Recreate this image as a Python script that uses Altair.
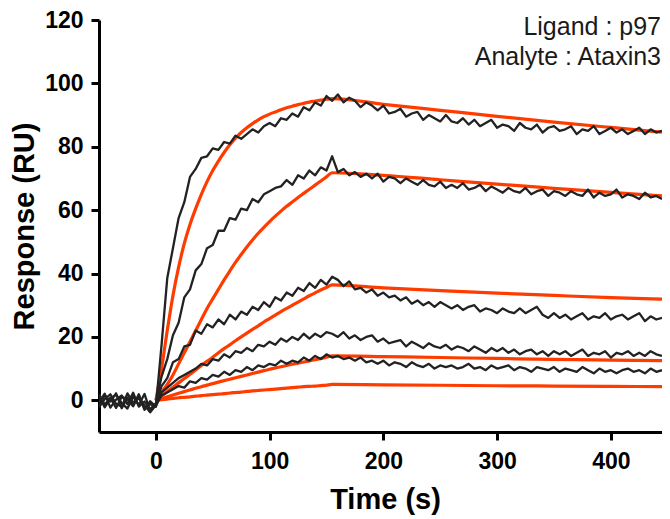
import altair as alt
import pandas as pd

# ---------------- data ----------------
# black measured traces: baseline (t=-50..-5, step 5), association (t=0..155), dissociation (t=160..445)
base_A = [-1.8, 1.6, -0.4, 2.2, -2.5, 0.9, -1.7, 1.9, -3.0, -0.3]
assoc_A = [-2.0, 17.5, 38.5, 48.0, 57.5, 62.5, 70.5, 73.0, 76.5, 77.0, 79.5, 79.0, 81.5, 81.0, 83.5, 82.5,
           84.0, 85.5, 84.5, 86.5, 87.5, 86.5, 89.0, 88.5, 90.5, 89.5, 92.5, 91.5, 94.0, 93.0, 96.0, 94.5]
diss_A = [96.5, 94.0, 95.5, 94.5, 92.5, 94.0, 93.0, 91.5, 93.0, 90.5,
          91.0, 92.0, 89.5, 90.5, 91.0, 88.5, 90.0, 89.0, 88.0, 90.0,
          88.0, 87.5, 89.0, 87.0, 88.5, 86.5, 87.5, 88.5, 86.0, 87.0,
          86.5, 85.0, 87.5, 86.0, 85.5, 87.0, 84.5, 86.0, 86.5, 85.0,
          85.5, 86.5, 84.0, 85.5, 85.0, 86.5, 84.0, 85.0, 86.0, 84.5,
          85.5, 84.0, 85.0, 86.0, 84.0, 85.5, 84.5, 85.0]

base_B = [1.4, -2.2, 0.5, 1.8, -0.9, -2.6, 1.2, -1.5, 2.0, -3.5]
assoc_B = [-1.0, 7.5, 13.0, 20.5, 24.5, 32.5, 35.0, 41.0, 43.0, 48.0, 49.0, 53.5, 53.5, 57.5, 57.0, 60.5,
           60.0, 63.5, 62.5, 65.0, 66.0, 67.0, 67.5, 69.5, 68.0, 71.0, 70.0, 72.5, 71.0, 73.5, 72.5, 77.0]
diss_B = [72.0, 73.0, 71.0, 72.0, 70.5, 71.5, 70.0, 71.5, 69.0, 70.5,
          70.0, 68.5, 70.0, 69.0, 68.0, 69.5, 68.0, 67.5, 69.0, 67.0,
          68.0, 67.0, 68.5, 66.5, 67.0, 68.0, 66.0, 67.5, 66.5, 65.5,
          67.0, 66.0, 65.5, 67.0, 65.0, 66.0, 66.5, 64.5, 66.0, 65.5,
          64.5, 66.0, 65.0, 64.5, 66.5, 64.0, 65.5, 64.5, 65.0, 66.5,
          64.0, 65.0, 64.5, 63.5, 65.5, 64.0, 64.5, 63.5]

base_C = [-0.6, 2.1, -2.3, 0.2, 1.5, -1.2, 2.4, -2.0, -0.4, -2.8]
assoc_C = [-1.0, 4.5, 7.0, 12.0, 13.0, 17.0, 17.5, 22.0, 21.0, 24.0, 23.0, 25.5, 24.0, 27.0, 25.5, 28.0,
           27.0, 29.5, 28.5, 31.0, 29.5, 32.5, 31.5, 34.0, 33.0, 35.5, 34.5, 37.0, 35.5, 38.0, 36.5, 39.0]
diss_C = [38.0, 36.0, 37.5, 35.0, 35.5, 34.0, 35.0, 33.0, 34.0, 32.5,
          33.0, 31.5, 32.5, 30.5, 31.5, 30.0, 31.0, 29.5, 31.0, 30.0,
          29.0, 30.0, 28.5, 29.5, 30.0, 28.0, 29.0, 28.5, 27.5, 29.0,
          28.0, 27.5, 29.0, 27.5, 28.5, 29.5, 27.0, 26.0, 27.5, 26.0,
          27.0, 25.5, 26.5, 27.5, 25.5, 26.5, 26.0, 27.5, 25.5, 26.5,
          27.0, 25.5, 26.5, 27.5, 25.0, 26.5, 25.5, 26.0]

base_D = [2.0, -1.4, 0.8, -2.4, 1.1, 0.3, -1.9, 1.6, -2.6, -1.2]
assoc_D = [-2.0, 2.5, 4.0, 5.5, 7.0, 8.0, 9.0, 10.0, 11.5, 11.0, 13.0, 12.5, 14.5, 13.5, 15.5, 15.0,
           16.5, 15.5, 17.5, 17.0, 18.5, 17.5, 19.5, 18.5, 20.0, 19.0, 21.0, 19.5, 21.0, 20.0, 21.5, 21.0]
diss_D = [20.0, 21.5, 19.5, 20.5, 19.0, 20.0, 20.5, 18.5, 19.5, 18.0,
          18.5, 19.0, 17.0, 18.5, 17.5, 16.5, 18.0, 17.0, 16.5, 17.5,
          16.0, 17.0, 16.5, 15.5, 17.0, 16.0, 15.0, 16.5, 15.5, 16.5,
          15.0, 16.0, 14.5, 15.5, 16.0, 14.5, 15.5, 14.0, 15.5, 14.5,
          15.5, 14.0, 15.0, 16.0, 14.0, 15.0, 14.5, 15.5, 13.5, 15.0,
          14.5, 15.5, 14.0, 15.0, 14.0, 15.5, 14.5, 14.0]

base_E = [-2.2, 0.4, 1.9, -1.1, -2.0, 2.2, -0.7, 0.6, -1.6, -3.8]
assoc_E = [-1.5, 1.5, 2.5, 3.5, 4.5, 4.0, 6.0, 5.5, 7.0, 6.5, 8.0, 7.5, 9.0, 8.0, 9.5, 9.0,
           10.5, 9.5, 11.0, 10.5, 11.5, 11.0, 12.5, 11.5, 12.5, 12.0, 13.5, 12.5, 14.0, 13.0, 14.5, 13.5]
diss_E = [14.0, 13.0, 13.5, 12.5, 13.5, 12.0, 12.5, 11.5, 12.5, 11.0,
          12.0, 11.5, 10.5, 12.0, 11.0, 10.5, 11.5, 10.0, 11.0, 10.5,
          11.0, 10.0, 10.5, 11.5, 10.0, 10.5, 9.5, 11.0, 10.0, 10.5,
          11.0, 9.5, 10.5, 10.0, 9.0, 10.5, 10.0, 9.5, 10.5, 9.0,
          10.0, 9.5, 9.0, 10.5, 9.5, 8.5, 10.0, 9.0, 9.5, 8.5,
          9.5, 10.0, 9.0, 9.5, 8.5, 10.0, 9.0, 9.5]

# orange fitted curves
fit_t = [0, 5, 10, 15, 20, 25, 30, 35, 40, 45, 50, 55, 60, 65, 70, 75, 80, 85, 90, 95,
         100, 105, 110, 115, 120, 125, 130, 135, 140, 145, 150, 155, 200, 250, 300, 350, 400, 445]
fit_A = [0, 10, 22, 33, 42, 49.5, 55.5, 60.5, 65, 69, 72.5, 75.5, 78.2, 80.6, 82.7, 84.5, 86.0, 87.3, 88.5, 89.5,
         90.3, 91.0, 91.7, 92.3, 92.8, 93.3, 93.7, 94.1, 94.4, 94.7, 95.0, 95.2, 93.4, 91.5, 89.6, 87.8, 86.1, 84.6]
fit_B = [0, 2.5, 5, 8, 11.5, 15, 18.5, 22, 25.5, 29, 32, 35, 38, 40.8, 43.5, 46, 48.4, 50.6, 52.7, 54.6,
         56.4, 58.1, 59.7, 61.2, 62.6, 64, 65.3, 66.6, 67.9, 69.2, 70.5, 71.8, 71.0, 69.6, 68.2, 66.9, 65.6, 64.5]
fit_C = [0, 1.4, 2.8, 4.1, 5.5, 6.9, 8.2, 9.6, 11, 12.3, 13.6, 15, 16.3, 17.5, 18.8, 20, 21.2, 22.4, 23.5, 24.7,
         25.8, 26.9, 28, 29, 30, 31, 32, 33, 33.9, 34.8, 35.6, 36.4, 35.5, 34.6, 33.8, 33.1, 32.4, 31.9]
fit_D = [0, 0.55, 1.1, 1.65, 2.2, 2.75, 3.25, 3.8, 4.3, 4.8, 5.25, 5.75, 6.2, 6.65, 7.1, 7.55, 8.0, 8.45, 8.9, 9.35,
         9.8, 10.2, 10.6, 11.0, 11.4, 11.75, 12.1, 12.45, 12.8, 13.2, 13.6, 14.0, 13.8, 13.5, 13.2, 12.9, 12.7, 12.5]
fit_E = [0, 0.2, 0.4, 0.6, 0.8, 0.95, 1.1, 1.3, 1.5, 1.65, 1.8, 1.95, 2.1, 2.3, 2.45, 2.6, 2.8, 2.95, 3.1, 3.25,
         3.4, 3.55, 3.7, 3.85, 4.0, 4.15, 4.3, 4.4, 4.5, 4.65, 4.8, 5.0, 4.9, 4.75, 4.6, 4.5, 4.4, 4.3]

x_ticks = [0, 100, 200, 300, 400]
y_ticks = [0, 20, 40, 60, 80, 100, 120]
annotation = ["Ligand : p97", "Analyte : Ataxin3"]

# ---------------- build tables ----------------
rows = []
for name, base, assoc, diss in [("A", base_A, assoc_A, diss_A), ("B", base_B, assoc_B, diss_B),
                                ("C", base_C, assoc_C, diss_C), ("D", base_D, assoc_D, diss_D),
                                ("E", base_E, assoc_E, diss_E)]:
    for i, v in enumerate(base):
        rows.append({"t": -50 + 5 * i, "v": v, "s": name})
    for i, v in enumerate(assoc):
        rows.append({"t": 5 * i, "v": v, "s": name})
    for i, v in enumerate(diss):
        rows.append({"t": 160 + 5 * i, "v": v, "s": name})
traces = pd.DataFrame(rows)

frows = []
for name, vals in [("A", fit_A), ("B", fit_B), ("C", fit_C), ("D", fit_D), ("E", fit_E)]:
    for t, v in zip(fit_t, vals):
        frows.append({"t": t, "v": v, "s": name})
fits = pd.DataFrame(frows)

FONT = "Liberation Sans"

x_enc = alt.X("t:Q", scale=alt.Scale(domain=[-50, 445], nice=False, zero=False),
              axis=alt.Axis(values=x_ticks, title="Time (s)", grid=False,
                            domainColor="black", domainWidth=3, tickColor="black", tickWidth=3, tickSize=8,
                            labelFont=FONT, labelFontWeight="bold", labelFontSize=23, labelColor="black",
                            labelBaseline="alphabetic", labelPadding=28,
                            titleFont=FONT, titleFontWeight="bold", titleFontSize=29, titleColor="black",
                            titleBaseline="alphabetic", titleY=76, titleX=286))
y_enc = alt.Y("v:Q", scale=alt.Scale(domain=[-10, 120], nice=False, zero=False),
              axis=alt.Axis(values=y_ticks, title="Response (RU)", grid=False,
                            domainColor="black", domainWidth=3, tickColor="black", tickWidth=3, tickSize=8,
                            labelFont=FONT, labelFontWeight="bold", labelFontSize=23, labelColor="black",
                            labelPadding=8,
                            titleFont=FONT, titleFontWeight="bold", titleFontSize=29, titleColor="black",
                            titleBaseline="alphabetic", titleAlign="center", titleX=-66, titleY=206))

fit_layer = alt.Chart(fits).mark_line(color="#ff3c00", strokeWidth=3.2, clip=True,
                                      interpolate="monotone").encode(x=x_enc, y=y_enc, detail="s:N")
trace_layer = alt.Chart(traces).mark_line(color="#222222", strokeWidth=2.3, clip=True,
                                          strokeJoin="round").encode(x="t:Q", y="v:Q", detail="s:N")

text_layers = []
for i, line in enumerate(annotation):
    text_layers.append(
        alt.Chart(pd.DataFrame({"txt": [line]})).mark_text(
            align="right", baseline="alphabetic", font=FONT, fontSize=25, color="#1a1a1a"
        ).encode(text="txt:N", x=alt.value(562), y=alt.value(15 + 30 * i))
    )

chart = alt.layer(fit_layer, trace_layer, *text_layers).properties(
    width=563, height=412,
    autosize=alt.AutoSizeParams(type="none"),
    padding={"left": 91, "top": 12, "right": 0, "bottom": 88},
).configure_view(strokeWidth=0)

chart.save("out.html", embed_options={"renderer": "svg", "actions": False})
